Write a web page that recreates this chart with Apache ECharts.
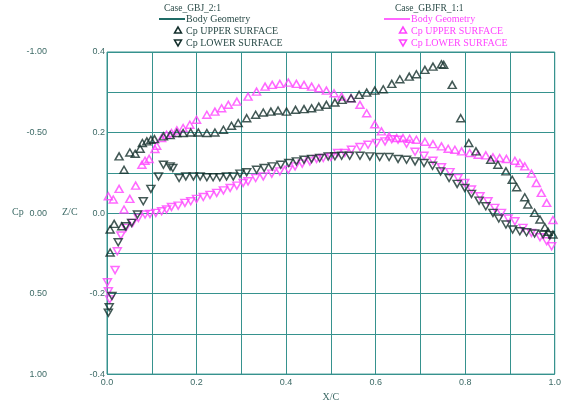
<!DOCTYPE html>
<html><head><meta charset="utf-8">
<script src="https://cdn.jsdelivr.net/npm/echarts@6/dist/echarts.min.js"></script>
<style>html,body{margin:0;padding:0;background:#fff}#c{width:564px;height:407px}</style>
</head><body><div id="c"></div>
<script>
// X/C positions and Cp values
const blackUpperX = [0.007,0.007,0.016,0.033,0.027,0.038,0.051,0.063,0.074,0.079,0.089,0.098,0.106,0.126,0.141,0.156,0.170,0.187,0.204,0.223,0.241,0.260,0.278,0.293,0.312,0.332,0.349,0.366,0.382,0.401,0.421,0.440,0.457,0.473,0.490,0.509,0.525,0.545,0.563,0.580,0.598,0.617,0.636,0.654,0.675,0.691,0.710,0.728,0.747,0.752,0.771,0.790,0.808,0.824,0.857,0.873,0.891,0.905,0.915,0.933,0.940,0.955,0.967,0.978,0.985,0.996];
const blackUpperCp = [0.245,0.102,0.067,0.082,-0.352,-0.269,-0.376,-0.368,-0.399,-0.435,-0.445,-0.455,-0.459,-0.476,-0.484,-0.497,-0.497,-0.500,-0.500,-0.497,-0.500,-0.517,-0.542,-0.559,-0.589,-0.610,-0.624,-0.630,-0.637,-0.630,-0.641,-0.645,-0.651,-0.661,-0.672,-0.686,-0.703,-0.713,-0.734,-0.748,-0.760,-0.769,-0.802,-0.831,-0.847,-0.862,-0.889,-0.909,-0.924,-0.920,-0.796,-0.589,-0.435,-0.383,-0.331,-0.300,-0.259,-0.207,-0.160,-0.098,-0.053,-0.001,0.040,0.088,0.116,0.133];

const blackLowerX = [0.003,0.005,0.011,0.025,0.042,0.055,0.068,0.081,0.098,0.115,0.126,0.141,0.147,0.161,0.176,0.193,0.208,0.223,0.237,0.252,0.267,0.282,0.297,0.312,0.334,0.351,0.369,0.388,0.406,0.423,0.440,0.457,0.475,0.494,0.509,0.524,0.542,0.565,0.587,0.609,0.630,0.650,0.669,0.688,0.708,0.727,0.745,0.764,0.782,0.799,0.814,0.831,0.846,0.862,0.875,0.891,0.906,0.922,0.937,0.955,0.974,0.989];
const blackLowerCp = [0.618,0.585,0.515,0.181,0.082,0.061,0.009,-0.073,-0.150,-0.228,-0.300,-0.290,-0.280,-0.218,-0.228,-0.228,-0.228,-0.222,-0.222,-0.222,-0.228,-0.228,-0.245,-0.253,-0.269,-0.280,-0.290,-0.300,-0.311,-0.321,-0.331,-0.336,-0.342,-0.352,-0.353,-0.356,-0.356,-0.356,-0.352,-0.348,-0.348,-0.336,-0.331,-0.321,-0.311,-0.294,-0.259,-0.218,-0.181,-0.156,-0.119,-0.077,-0.042,-0.001,0.034,0.071,0.102,0.113,0.119,0.127,0.133,0.137];

const magentaUpperX = [0.003,0.014,0.027,0.038,0.051,0.064,0.078,0.085,0.094,0.107,0.111,0.122,0.133,0.144,0.156,0.170,0.185,0.200,0.223,0.241,0.256,0.271,0.290,0.315,0.334,0.353,0.369,0.386,0.405,0.423,0.440,0.457,0.473,0.490,0.507,0.524,0.545,0.565,0.580,0.598,0.613,0.630,0.647,0.661,0.676,0.691,0.710,0.728,0.747,0.762,0.777,0.792,0.810,0.829,0.846,0.862,0.877,0.892,0.911,0.922,0.933,0.948,0.959,0.970,0.982,0.996];
const magentaUpperCp = [-0.104,-0.084,-0.150,-0.022,-0.088,-0.170,-0.300,-0.325,-0.336,-0.398,-0.418,-0.466,-0.486,-0.497,-0.513,-0.528,-0.548,-0.579,-0.610,-0.630,-0.651,-0.672,-0.692,-0.723,-0.754,-0.785,-0.796,-0.802,-0.810,-0.802,-0.796,-0.785,-0.775,-0.760,-0.744,-0.724,-0.713,-0.672,-0.620,-0.551,-0.507,-0.476,-0.466,-0.466,-0.461,-0.455,-0.443,-0.428,-0.414,-0.399,-0.393,-0.383,-0.373,-0.362,-0.358,-0.346,-0.342,-0.336,-0.325,-0.311,-0.290,-0.245,-0.187,-0.125,-0.063,0.043];

const magentaLowerX = [0.001,0.003,0.006,0.018,0.023,0.031,0.042,0.057,0.070,0.085,0.096,0.109,0.122,0.133,0.144,0.159,0.174,0.187,0.200,0.215,0.230,0.245,0.260,0.275,0.290,0.304,0.315,0.332,0.349,0.368,0.386,0.405,0.420,0.436,0.453,0.468,0.483,0.500,0.515,0.531,0.546,0.565,0.583,0.602,0.621,0.636,0.650,0.669,0.688,0.708,0.728,0.747,0.766,0.784,0.799,0.814,0.833,0.851,0.866,0.881,0.896,0.911,0.929,0.948,0.967,0.982,0.993];
const magentaLowerCp = [0.430,0.486,0.536,0.354,0.237,0.139,0.092,0.061,0.030,0.009,0.005,-0.001,-0.011,-0.022,-0.038,-0.046,-0.063,-0.073,-0.088,-0.100,-0.113,-0.125,-0.141,-0.156,-0.170,-0.187,-0.197,-0.218,-0.228,-0.245,-0.259,-0.269,-0.290,-0.307,-0.321,-0.336,-0.342,-0.348,-0.373,-0.373,-0.393,-0.410,-0.424,-0.435,-0.445,-0.458,-0.455,-0.430,-0.381,-0.356,-0.325,-0.284,-0.254,-0.218,-0.187,-0.146,-0.104,-0.073,-0.032,-0.001,0.034,0.051,0.092,0.123,0.150,0.175,0.206];

const caseNames = ['Case_GBJ_2:1', 'Case_GBJFR_1:1'];
const legendLabels = ['Body Geometry', 'Cp UPPER SURFACE', 'Cp LOWER SURFACE'];

const GRID = '#36928e';
const LABEL = '#3d6a66';
const DARK = '#142f2c';
const MAG = '#ff44ff';
const SERIF = '"Liberation Serif", "DejaVu Serif", serif';
const SANS = '"Liberation Sans", Arial, sans-serif';

function zip(xs, ys){ const n = Math.min(xs.length, ys.length); const o=[]; for(let i=0;i<n;i++) o.push([xs[i], ys[i]]); return o; }
function sc(name, xs, ys, color, down){
  return {
    type:'scatter', name, yAxisIndex:0, data: zip(xs, ys),
    symbol:'triangle', symbolSize:[8,7], symbolRotate: down ? 180 : 0,
    itemStyle:{color:'rgba(255,255,255,0)', borderColor:color, borderWidth:1.5},
    emphasis:{disabled:true}, silent:true
  };
}

function legendGroup(x0, titleCx, color, lineColor, textColor, title){
  const els = [];
  els.push({type:'text', left: titleCx - 36, top: 3, style:{text:title, fill:'#2a4b48', font:'9.5px ' + SERIF}});
  els.push({type:'line', shape:{x1:x0-27, y1:19, x2:x0-1, y2:19}, style:{stroke:lineColor, lineWidth:2}});
  els.push({type:'text', left:x0, top:14, style:{text:legendLabels[0], fill:textColor, font:'10px ' + SERIF}});
  els.push({type:'polygon', shape:{points:[[x0-8,27],[x0-11.5,33],[x0-4.5,33]]}, style:{fill:'none', stroke:color, lineWidth:1.5}});
  els.push({type:'text', left:x0, top:26, style:{text:legendLabels[1], fill:textColor, font:'10px ' + SERIF}});
  els.push({type:'polygon', shape:{points:[[x0-11.5,40],[x0-4.5,40],[x0-8,46]]}, style:{fill:'none', stroke:color, lineWidth:1.5}});
  els.push({type:'text', left:x0, top:38, style:{text:legendLabels[2], fill:textColor, font:'10px ' + SERIF}});
  return els;
}

const chart = echarts.init(document.getElementById('c'), null, {renderer:'canvas'});
chart.setOption({
  animation:false,
  backgroundColor:'#ffffff',
  grid:{left:107, right:9, top:52, bottom:32, show:true, borderColor:GRID, borderWidth:1, backgroundColor:'transparent'},
  xAxis:{
    type:'value', min:0, max:1, interval:0.1,
    axisLine:{show:false}, axisTick:{show:false},
    splitLine:{show:true, lineStyle:{color:GRID, width:1}},
    axisLabel:{margin:4, fontSize:9, fontFamily:SANS, color:LABEL,
      formatter:v => (Math.round(v*10) % 2 === 0) ? v.toFixed(1) : ''},
    name:'X/C', nameLocation:'middle', nameGap:14,
    nameTextStyle:{fontFamily:SERIF, fontSize:10, color:LABEL}
  },
  yAxis:[
    {
      type:'value', min:-1, max:1, interval:0.25, inverse:true, position:'left', offset:56,
      axisLine:{show:false}, axisTick:{show:false}, splitLine:{show:false},
      axisLabel:{margin:4, fontSize:9, fontFamily:SANS, color:LABEL,
        formatter:v => (Math.round(v*4) % 2 === 0) ? (Math.abs(v) < 1e-9 ? '0.00' : v.toFixed(2)) : ''}
    },
    {
      type:'value', min:-0.4, max:0.4, interval:0.1, position:'left', offset:0,
      axisLine:{show:false}, axisTick:{show:false},
      splitLine:{show:true, lineStyle:{color:GRID, width:1}},
      axisLabel:{margin:2, fontSize:9, fontFamily:SANS, color:LABEL,
        formatter:v => (Math.round(v*10) % 2 === 0) ? (Math.abs(v) < 1e-9 ? '0.0' : v.toFixed(1)) : ''}
    }
  ],
  graphic:[
    {type:'text', left:12, top:207, style:{text:'Cp', fill:LABEL, font:'10px ' + SERIF}},
    {type:'text', left:62, top:207, style:{text:'Z/C', fill:LABEL, font:'10px ' + SERIF}},
    ...legendGroup(186, 200, DARK, '#1f6b66', '#2a4b48', caseNames[0]),
    ...legendGroup(411, 431, MAG, '#ff66ff', MAG, caseNames[1])
  ],
  series:[
    sc('GBJFR upper', magentaUpperX, magentaUpperCp, MAG, false),
    sc('GBJFR lower', magentaLowerX, magentaLowerCp, MAG, true),
    sc('GBJ upper', blackUpperX, blackUpperCp, DARK, false),
    sc('GBJ lower', blackLowerX, blackLowerCp, DARK, true)
  ]
});
</script></body></html>
